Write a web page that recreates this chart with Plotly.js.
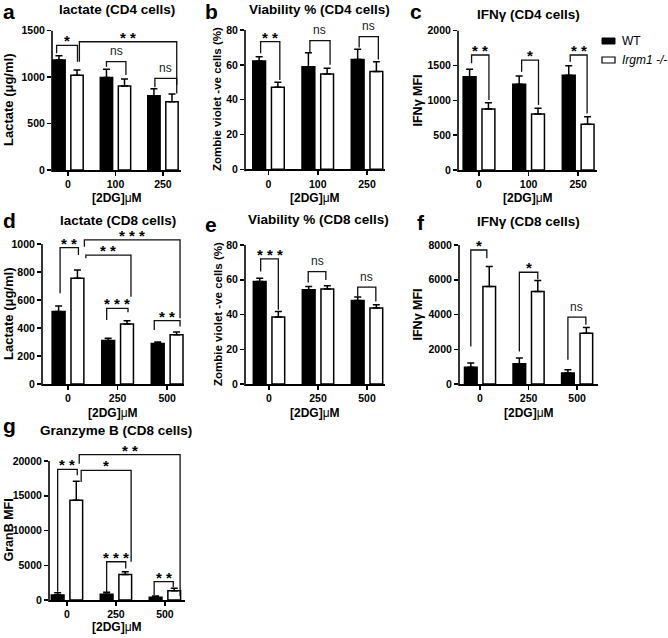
<!DOCTYPE html>
<html><head><meta charset="utf-8">
<script src="https://cdn.plot.ly/plotly-3.0.1.min.js"></script>
<style>html,body{margin:0;padding:0;background:#fff}</style>
</head><body><div id="chart" style="width:668px;height:638px"></div>
<script>
// ---------- categories ----------
const doseCD4 = ['0', '100', '250'];
const doseCD8 = ['0', '250', '500'];
const groupNames = ['WT', 'Irgm1 -/-'];

// ---------- a: lactate CD4 ----------
const lacCD4WT = [1184, 997, 800];
const lacCD4WTerr = [47, 87, 75];
const lacCD4KO = [1019, 904, 736];
const lacCD4KOerr = [57, 76, 82];
const lacCD4Ticks = [0, 500, 1000, 1500];
// ---------- b: viability CD4 ----------
const viaCD4WT = [62.2, 58.9, 63.1];
const viaCD4WTerr = [2.5, 8.0, 5.8];
const viaCD4KO = [47.1, 54.7, 56.1];
const viaCD4KOerr = [2.9, 3.3, 5.7];
const viaTicks = [0, 20, 40, 60, 80];
// ---------- c: IFNg CD4 ----------
const ifnCD4WT = [1340, 1230, 1359];
const ifnCD4WTerr = [105, 119, 139];
const ifnCD4KO = [876, 804, 656];
const ifnCD4KOerr = [91, 81, 110];
const ifnCD4Ticks = [0, 500, 1000, 1500, 2000];
// ---------- d: lactate CD8 ----------
const lacCD8WT = [517, 310, 290];
const lacCD8WTerr = [40, 16, 10];
const lacCD8KO = [755, 429, 352];
const lacCD8KOerr = [59, 23, 20];
const lacCD8Ticks = [0, 200, 400, 600, 800, 1000];
// ---------- e: viability CD8 ----------
const viaCD8WT = [59, 54.2, 48];
const viaCD8WTerr = [1.9, 1.9, 2.0];
const viaCD8KO = [38.5, 54.7, 43.7];
const viaCD8KOerr = [3.2, 1.9, 1.9];
// ---------- f: IFNg CD8 ----------
const ifnCD8WT = [957, 1167, 632];
const ifnCD8WTerr = [248, 326, 191];
const ifnCD8KO = [5608, 5320, 2928];
const ifnCD8KOerr = [1148, 632, 326];
const ifnCD8Ticks = [0, 2000, 4000, 6000, 8000];
// ---------- g: granzyme B CD8 ----------
const grzWT = [718, 813, 383];
const grzWTerr = [330, 290, 190];
const grzKO = [14350, 3684, 1340];
const grzKOerr = [2730, 383, 335];
const grzTicks = [0, 5000, 10000, 15000, 20000];

// ---------- significance brackets: [label, xLeft, xRight, yTop, yLeftEnd, yRightEnd] ----------
const sigA = [['*', -0.24, 0.20, 1342, 1256, 1166], ['* *', 0.24, 2.29, 1381, 1166, 915],
              ['ns', 0.81, 1.22, 1166, 1112, 1023], ['ns', 1.83, 2.29, 987, 890, 825]];
const sigB = [['* *', -0.16, 0.23, 73.3, 66.6, 51.3], ['ns', 0.84, 1.25, 73.9, 66.6, 60],
              ['ns', 1.84, 2.23, 76.2, 69.9, 63]];
const sigC = [['* *', -0.15, 0.2, 1651, 1531, 1005], ['*', 0.86, 1.2, 1579, 1411, 933],
              ['* *', 1.84, 2.18, 1651, 1555, 813]];
const sigD = [['* *', -0.16, 0.21, 974, 648, 921], ['* * *', 0.33, 2.26, 1029, 981, 469],
              ['* *', 0.36, 1.27, 921, 898, 624], ['* * *', 0.78, 1.21, 540, 457, 512],
              ['* *', 1.74, 2.26, 452, 386, 410]];
const sigE = [['* * *', -0.17, 0.19, 72, 64.7, 42.7], ['ns', 0.8, 1.16, 64.7, 58.4, 59.9],
              ['ns', 1.81, 2.18, 55.7, 50.3, 47.5]];
const sigF = [['*', -0.19, 0.14, 7713, 2163, 7234], ['*', 0.81, 1.19, 6431, 1876, 6029],
              ['ns', 1.81, 2.18, 3847, 1397, 3407]];
const sigG = [['* *', -0.19, 0.21, 18804, 1196, 17943], ['* *', 0.25, 2.31, 20909, 19617, 574],
              ['*', 0.29, 1.31, 18660, 16986, 5502], ['* * *', 0.81, 1.2, 5502, 957, 4545],
              ['* *', 1.78, 2.17, 2632, 718, 1818]];

// ---------- layout helpers ----------
const W = 668, H = 638;
const FONT = 'Liberation Sans, Arial, sans-serif';
const px = x => x / W;
const py = y => 1 - y / H;
const EXT = 1.15;

const panels = [
  {letter:'a', L:[2,12], title:'lactate (CD4 cells)', T:[117,9.5], ytitle:'Lactate (μg/ml)', Y:[8,100,13],
   cats:doseCD4, wt:lacCD4WT, wtE:lacCD4WTerr, ko:lacCD4KO, koE:lacCD4KOerr, ticks:lacCD4Ticks, sig:sigA,
   xpx:[52,181], ypx:[30.7,170], xr:[-0.337,2.38], xt:198.5},
  {letter:'b', L:[204,12], title:'Viability % (CD4 cells)', T:[319.5,9.5], ytitle:'Zombie violet -ve cells (%)', Y:[217.5,99.5,11.5],
   cats:doseCD4, wt:viaCD4WT, wtE:viaCD4WTerr, ko:viaCD4KO, koE:viaCD4KOerr, ticks:viaTicks, sig:sigB,
   xpx:[245,385], ypx:[30,169.3], xr:[-0.477,2.365], xt:198.5},
  {letter:'c', L:[409,12], title:'IFNγ (CD4 cells)', T:[528,15], ytitle:'IFNγ MFI', Y:[417,100.5,12.5],
   cats:doseCD4, wt:ifnCD4WT, wtE:ifnCD4WTerr, ko:ifnCD4KO, koE:ifnCD4KOerr, ticks:ifnCD4Ticks, sig:sigC,
   xpx:[458,597], ypx:[30.7,170], xr:[-0.424,2.38], xt:198.5},
  {letter:'d', L:[2,220.3], title:'lactate (CD8 cells)', T:[117.5,220.2], ytitle:'Lactate (μg/ml)', Y:[8,314,13],
   cats:doseCD8, wt:lacCD8WT, wtE:lacCD8WTerr, ko:lacCD8KO, koE:lacCD8KOerr, ticks:lacCD8Ticks, sig:sigD,
   xpx:[42,184], ypx:[244,384], xr:[-0.525,2.34], xt:412.5},
  {letter:'e', L:[204,224], title:'Viability % (CD8 cells)', T:[318.3,219.5], ytitle:'Zombie violet -ve cells (%)', Y:[217.5,314.5,11.5],
   cats:doseCD8, wt:viaCD8WT, wtE:viaCD8WTerr, ko:viaCD8KO, koE:viaCD8KOerr, ticks:viaTicks, sig:sigE,
   xpx:[245,385], ypx:[245,384], xr:[-0.49,2.367], xt:412.5},
  {letter:'f', L:[416,222.3], title:'IFNγ (CD8 cells)', T:[528.8,221.7], ytitle:'IFNγ MFI', Y:[417,314.5,12.5],
   cats:doseCD8, wt:ifnCD8WT, wtE:ifnCD8WTerr, ko:ifnCD8KO, koE:ifnCD8KOerr, ticks:ifnCD8Ticks, sig:sigF,
   xpx:[459,598], ypx:[245,384], xr:[-0.433,2.43], xt:412.5},
  {letter:'g', L:[2,425.3], title:'Granzyme B (CD8 cells)', T:[116,430], ytitle:'GranB MFI', Y:[8,530.5,12.5],
   cats:doseCD8, wt:grzWT, wtE:grzWTerr, ko:grzKO, koE:grzKOerr, ticks:grzTicks, sig:sigG,
   xpx:[49,185], ypx:[461,600], xr:[-0.367,2.41], xt:627}
];

const BAR_W = 0.26, OFF_WT = -0.32, OFF_KO = 0.06;
const traces = [], shapes = [], annotations = [];
const layout = {
  width: W, height: H, margin: {l:0, r:0, t:0, b:0},
  paper_bgcolor: '#fff', plot_bgcolor: 'rgba(0,0,0,0)',
  showlegend: false, barmode: 'overlay',
  font: {family: FONT, color: '#000'}
};

panels.forEach((p, i) => {
  const k = i === 0 ? '' : String(i + 1);
  const xa = 'x' + k, ya = 'y' + k;
  const yTop = p.ticks[p.ticks.length - 1];
  const pb = p.ypx[1], pt = p.ypx[0];
  const topPx = pb - EXT * (pb - pt);
  const xs = p.cats.map((_, j) => j);
  layout['xaxis' + k] = {
    domain: [px(p.xpx[0]), px(p.xpx[1])], range: p.xr, anchor: ya,
    tickvals: xs, ticktext: p.cats, ticks: 'outside', ticklen: 4, tickwidth: 1.5, tickcolor: '#000',
    showline: true, linecolor: '#000', linewidth: 1.6, showgrid: false, zeroline: false,
    tickfont: {family: FONT, size: 10.5, color: '#000', weight: 'bold'}, fixedrange: true
  };
  layout['yaxis' + k] = {
    domain: [py(pb), py(topPx)], range: [0, yTop * EXT], anchor: xa,
    tickvals: p.ticks, tickformat: 'd', ticks: 'outside', ticklen: 4, tickwidth: 1.5, tickcolor: '#000',
    showline: false, showgrid: false, zeroline: false,
    tickfont: {family: FONT, size: 10.5, color: '#000', weight: 'bold'}, fixedrange: true
  };
  // y axis line only up to the top tick
  shapes.push({type: 'line', xref: xa + ' domain', yref: ya + ' domain', x0: 0, x1: 0, y0: -0.012, y1: 1 / EXT,
               line: {color: '#000', width: 1.6}});
  // bars
  traces.push({type: 'bar', x: xs, y: p.wt, name: groupNames[0], xaxis: xa, yaxis: ya,
    width: BAR_W, offset: OFF_WT, marker: {color: '#000', line: {color: '#000', width: 1.5}},
    error_y: {type: 'data', symmetric: false, array: p.wtE, arrayminus: p.wtE.map(() => 0),
              color: '#000', thickness: 1.5, width: 3.5}, hoverinfo: 'skip'});
  traces.push({type: 'bar', x: xs, y: p.ko, name: groupNames[1], xaxis: xa, yaxis: ya,
    width: BAR_W, offset: OFF_KO, marker: {color: '#fff', line: {color: '#000', width: 1.5}},
    error_y: {type: 'data', symmetric: false, array: p.koE, arrayminus: p.koE.map(() => 0),
              color: '#000', thickness: 1.5, width: 3.5}, hoverinfo: 'skip'});
  // significance brackets
  p.sig.forEach(s => {
    const [lab, x1, x2, yT, yL, yR] = s;
    shapes.push({type: 'path', xref: xa, yref: ya,
      path: `M ${x1},${yL} L ${x1},${yT} L ${x2},${yT} L ${x2},${yR}`,
      line: {color: '#111', width: 1.3}});
    const isNs = lab === 'ns';
    annotations.push({xref: xa, yref: ya, x: (x1 + x2) / 2, y: yT, yanchor: 'bottom', xanchor: 'center',
      showarrow: false, text: isNs ? lab : '<b>' + lab + '</b>',
      yshift: isNs ? 1.5 : -6,
      font: {family: FONT, size: isNs ? 12 : 15, color: isNs ? '#222' : '#000'}});
  });
  // panel letter
  annotations.push({xref: 'paper', yref: 'paper', x: px(p.L[0]), y: py(p.L[1]), xanchor: 'left', yanchor: 'middle',
    showarrow: false, borderpad: 0, text: '<b>' + p.letter + '</b>', font: {family: FONT, size: 21, color: '#000'}});
  // title
  annotations.push({xref: 'paper', yref: 'paper', x: px(p.T[0]), y: py(p.T[1]), xanchor: 'center', yanchor: 'middle',
    showarrow: false, text: '<b>' + p.title + '</b>', font: {family: FONT, size: 13.5, color: '#000'}});
  // y title
  annotations.push({xref: 'paper', yref: 'paper', x: px(p.Y[0]), y: py(p.Y[1]), xanchor: 'center', yanchor: 'middle',
    textangle: -90, showarrow: false, text: '<b>' + p.ytitle + '</b>', font: {family: FONT, size: p.Y[2], color: '#000'}});
  // x title
  annotations.push({xref: 'paper', yref: 'paper', x: px((p.xpx[0] + p.xpx[1]) / 2), y: py(p.xt), xanchor: 'center', yanchor: 'middle',
    showarrow: false, text: '<b>[2DG]</b>μ<b>M</b>', font: {family: FONT, size: 12, color: '#000'}});
});

// legend (drawn manually)
shapes.push({type: 'rect', xref: 'paper', yref: 'paper', x0: px(602), x1: px(615), y0: py(44), y1: py(38),
             fillcolor: '#000', line: {color: '#000', width: 1}});
shapes.push({type: 'rect', xref: 'paper', yref: 'paper', x0: px(602), x1: px(615), y0: py(63), y1: py(57),
             fillcolor: '#fff', line: {color: '#000', width: 1.2}});
annotations.push({xref: 'paper', yref: 'paper', x: px(620), y: py(41), xanchor: 'left', yanchor: 'middle',
  showarrow: false, text: groupNames[0], font: {family: FONT, size: 12, color: '#000'}});
annotations.push({xref: 'paper', yref: 'paper', x: px(620), y: py(60), xanchor: 'left', yanchor: 'middle',
  showarrow: false, text: '<i>' + groupNames[1] + '</i>', font: {family: FONT, size: 12, color: '#000'}});

layout.shapes = shapes;
layout.annotations = annotations;
Plotly.newPlot('chart', traces, layout, {staticPlot: true, displayModeBar: false});
</script>
</body></html>
